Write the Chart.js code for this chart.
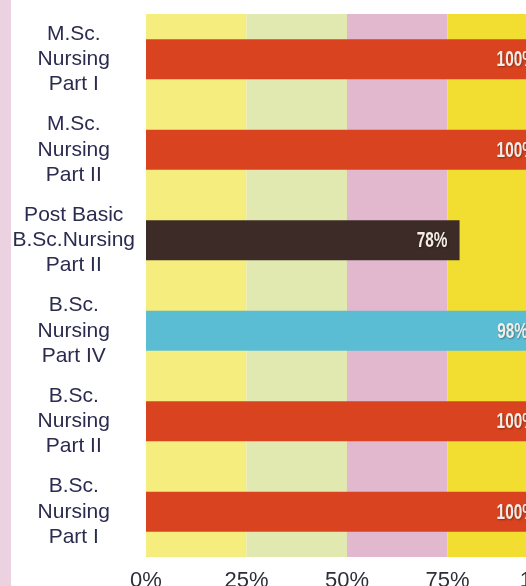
<!DOCTYPE html>
<html lang="en">
  <head>
    <meta charset="utf-8">
    <title>Nursing results</title>
    <style>
      html, body {
        margin: 0;
        padding: 0;
        width: 526px;
        height: 586px;
        overflow: hidden;
        background: white;
      }
      .strip {
        position: absolute;
        left: 0;
        top: 0;
        width: 11px;
        height: 586px;
        background: #ecd2e0;
      }
      .chartBox {
        position: absolute;
        left: 0;
        top: 0;
        width: 560px;
        height: 600px;
      }
    </style>
  </head>
  <body>
    <div class="strip"></div>
    <div class="chartBox">
      <canvas id="myChart" width="560" height="600"></canvas>
    </div>

    <script src="https://cdn.jsdelivr.net/npm/chart.js/dist/chart.umd.min.js"></script>
    <script>
    // data
    const categories = [
      ['M.Sc.', 'Nursing', 'Part I'],
      ['M.Sc.', 'Nursing', 'Part II'],
      ['Post Basic', 'B.Sc.Nursing', 'Part II'],
      ['B.Sc.', 'Nursing', 'Part IV'],
      ['B.Sc.', 'Nursing', 'Part II'],
      ['B.Sc.', 'Nursing', 'Part I']
    ];
    const passPercent = [100, 100, 78, 98, 100, 100];
    const barColors = ['#d9431f', '#d9431f', '#3d2b27', '#5bbdd4', '#d9431f', '#d9431f'];
    const xTicks = [0, 25, 50, 75, 100];
    const bandColors = ['#f5ee7e', '#e2e9b0', '#e2b8cf', '#f2de30'];

    // coloured background bands between the ticks
    const bands = {
      id: 'bands',
      beforeDatasetsDraw(chart) {
        const {ctx, chartArea, scales: {x}} = chart;
        ctx.save();
        for (let i = 0; i < bandColors.length; i++) {
          const x0 = x.getPixelForValue(xTicks[i]);
          const x1 = x.getPixelForValue(xTicks[i + 1]);
          ctx.fillStyle = bandColors[i];
          ctx.fillRect(x0, chartArea.top, x1 - x0, chartArea.bottom - chartArea.top);
        }
        ctx.restore();
      }
    };

    // value labels inside the bar ends
    const valueLabels = {
      id: 'valueLabels',
      afterDatasetsDraw(chart) {
        const {ctx} = chart;
        const meta = chart.getDatasetMeta(0);
        ctx.save();
        ctx.font = 'bold 22px "Liberation Sans", Arial, sans-serif';
        ctx.textAlign = 'right';
        ctx.textBaseline = 'middle';
        ctx.fillStyle = '#f4ece6';
        ctx.shadowColor = 'rgba(0,0,0,0.35)';
        ctx.shadowBlur = 2;
        ctx.shadowOffsetX = 1;
        ctx.shadowOffsetY = 1;
        meta.data.forEach((bar, i) => {
          const sx = 0.7;
          ctx.save();
          ctx.scale(sx, 1);
          ctx.fillText(passPercent[i] + '%', (bar.x - 12) / sx, bar.y + 1);
          ctx.restore();
        });
        ctx.restore();
      }
    };

    const config = {
      type: 'bar',
      data: {
        labels: categories,
        datasets: [{
          data: passPercent,
          backgroundColor: barColors,
          borderWidth: 0,
          categoryPercentage: 1,
          barPercentage: 0.44
        }]
      },
      options: {
        indexAxis: 'y',
        responsive: false,
        animation: false,
        layout: {
          padding: {left: 12, top: 14, right: 12, bottom: 0}
        },
        plugins: {
          legend: {display: false},
          tooltip: {enabled: false}
        },
        scales: {
          x: {
            min: 0,
            max: 100,
            afterBuildTicks: (scale) => {
              scale.ticks = xTicks.map(v => ({value: v}));
            },
            afterFit: (scale) => {
              scale.height = 43;
              scale.paddingLeft = 0;
              scale.paddingRight = 0;
            },
            grid: {display: false, drawTicks: false},
            border: {display: false},
            ticks: {
              padding: 11,
              color: '#2e2e3a',
              font: {family: '"Liberation Sans", Arial, sans-serif', size: 22},
              callback: (v) => v + '%'
            }
          },
          y: {
            afterFit: (scale) => {
              scale.width = 134;
              scale.paddingTop = 0;
              scale.paddingBottom = 0;
            },
            grid: {display: false, drawTicks: false},
            border: {display: false},
            ticks: {
              crossAlign: 'center',
              padding: 11,
              color: '#2b2b50',
              font: {family: '"Liberation Sans", Arial, sans-serif', size: 21, lineHeight: 1.2}
            }
          }
        }
      },
      plugins: [bands, valueLabels]
    };

    const myChart = new Chart(document.getElementById('myChart'), config);
    </script>
  </body>
</html>
